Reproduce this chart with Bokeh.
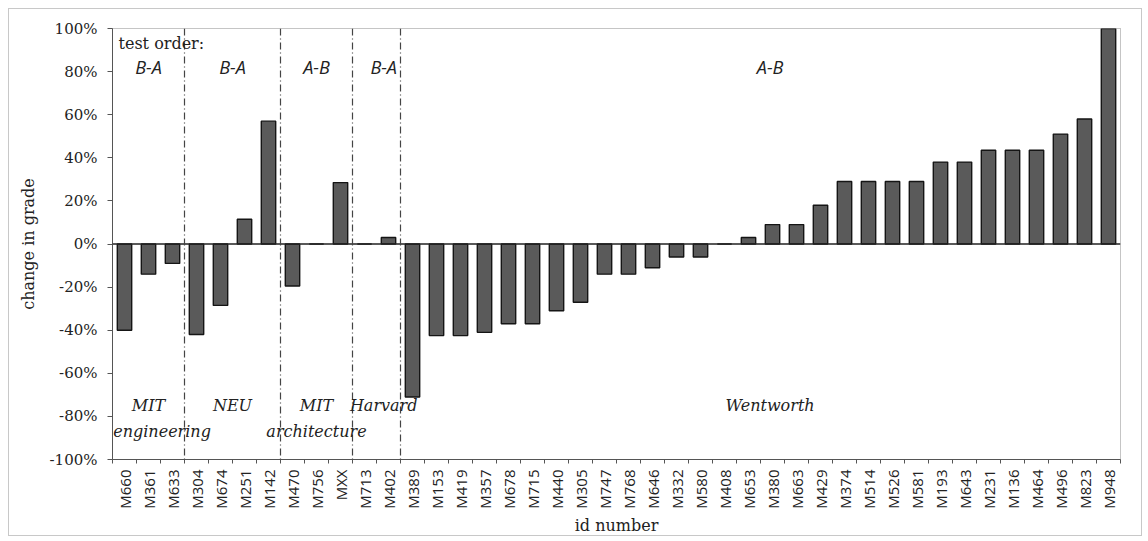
import math
from bokeh.plotting import figure
from bokeh.models import (ColumnDataSource, FixedTicker, PrintfTickFormatter, Span, Range1d, Label)
from bokeh.embed import file_html
from bokeh.resources import INLINE

ids = ["M660", "M361", "M633", "M304", "M674", "M251", "M142", "M470", "M756", "MXX",
       "M713", "M402", "M389", "M153", "M419", "M357", "M678", "M715", "M440", "M305",
       "M747", "M768", "M646", "M332", "M580", "M408", "M653", "M380", "M663", "M429",
       "M374", "M514", "M526", "M581", "M193", "M643", "M231", "M136", "M464", "M496",
       "M823", "M948"]
change = [-40, -14, -9, -42, -28.5, 11.5, 57, -19.5, 0, 28.5,
          0, 3, -71, -42.5, -42.5, -41, -37, -37, -31, -27,
          -14, -14, -11, -6, -6, 0, 3, 9, 9, 18,
          29, 29, 29, 29, 38, 38, 43.5, 43.5, 43.5, 51,
          58, 100]
group_sizes = [3, 4, 3, 2, 30]
test_order = ["B-A", "B-A", "A-B", "B-A", "A-B"]
schools = [["MIT", "engineering"], ["NEU"], ["MIT", "architecture"], ["Harvard"], ["Wentworth"]]
y_ticks = [-100, -80, -60, -40, -20, 0, 20, 40, 60, 80, 100]

SERIF = "DejaVu Serif"
n = len(ids)
xc = [i + 0.5 for i in range(n)]
src = ColumnDataSource(dict(x=xc, top=change, id=ids))

p = figure(width=1134, height=528, output_backend="svg", toolbar_location=None,
           x_range=Range1d(0, n), y_range=Range1d(-100, 100),
           min_border_left=103, min_border_right=23, min_border_top=19, min_border_bottom=77)
p.styles = {"margin": "8px", "border": "1px solid #c8c8c8"}

p.vbar(x="x", top="top", bottom=0, width=0.6, source=src,
       fill_color="#5a5a5a", line_color="#151515", line_width=1.4)

p.add_layout(Span(location=0, dimension="width", line_color="#222222", line_width=1.5))

# group dividers
bounds = []
acc = 0
for g in group_sizes[:-1]:
    acc += g
    bounds.append(acc)
for b in bounds:
    p.add_layout(Span(location=b, dimension="height", line_color="#444444",
                      line_width=1.2, line_dash="7 3 1 3"))

p.grid.visible = False
p.outline_line_color = "#8a8a8a"
p.outline_line_dash = "1 1"
p.outline_line_width = 1
p.background_fill_color = "white"
p.border_fill_color = "white"

# y axis
ya = p.yaxis[0]
ya.ticker = FixedTicker(ticks=y_ticks, minor_ticks=[])
ya.formatter = PrintfTickFormatter(format="%d%%")
ya.axis_label = "change in grade"
ya.axis_label_text_font = SERIF
ya.axis_label_text_font_style = "normal"
ya.axis_label_text_font_size = "16px"
ya.axis_label_text_color = "#222222"
ya.axis_label_standoff = 9
ya.major_label_text_font = SERIF
ya.major_label_text_font_size = "15px"
ya.major_label_text_color = "#222222"
ya.major_label_standoff = 10
ya.major_tick_out = 5
ya.major_tick_in = 0
ya.minor_tick_line_color = None
ya.axis_line_color = "#555555"
ya.major_tick_line_color = "#555555"

# x axis
xa = p.xaxis[0]
xa.ticker = FixedTicker(ticks=xc, minor_ticks=list(range(n + 1)))
xa.major_label_overrides = {x: s for x, s in zip(xc, ids)}
xa.major_label_orientation = math.pi / 2
xa.major_tick_line_color = None
xa.minor_tick_out = 4
xa.minor_tick_in = 0
xa.minor_tick_line_color = "#555555"
xa.axis_line_color = "#555555"
xa.major_label_text_font = "Open Sans"
xa.major_label_text_font_size = "15px"
xa.major_label_text_color = "#222222"
xa.major_label_standoff = 4
xa.axis_label = "id number"
xa.axis_label_text_font = SERIF
xa.axis_label_text_font_style = "normal"
xa.axis_label_text_font_size = "16px"
xa.axis_label_text_color = "#222222"
xa.axis_label_standoff = 4

# annotations
p.add_layout(Label(x=0.25, y=93, text="test order:", text_font=SERIF,
                   text_font_size="16px", text_color="#222222", text_baseline="middle"))
starts = [0] + bounds
centers = [s + g / 2 for s, g in zip(starts, group_sizes)]
centers[-1] += 0.4
centers[3] += 0.3
for c, t in zip(centers, test_order):
    p.add_layout(Label(x=c, y=82, text=t, text_font="Open Sans", text_font_style="italic",
                       text_font_size="18px", text_color="#222222", text_align="center",
                       text_baseline="middle"))
for gi, (c, lines) in enumerate(zip(centers, schools)):
    for k, s in enumerate(lines):
        if gi == 0 and k == 1:
            # keep the long word inside the frame (annotations are clipped to it)
            p.add_layout(Label(x=0.03, y=-75 - 12 * k, text=s, text_font=SERIF,
                               text_font_style="italic", text_font_size="16px",
                               text_color="#222222", text_align="left", text_baseline="middle"))
        else:
            p.add_layout(Label(x=c, y=-75 - 12 * k, text=s, text_font=SERIF,
                               text_font_style="italic", text_font_size="16px",
                               text_color="#222222", text_align="center", text_baseline="middle"))

open("out.html", "w").write(file_html(p, INLINE))
